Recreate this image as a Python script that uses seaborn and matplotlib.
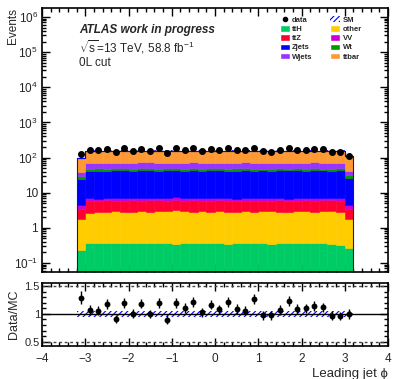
import numpy as np
import pandas as pd
import matplotlib
matplotlib.use("Agg")
import matplotlib.pyplot as plt
import seaborn as sns
from matplotlib.patches import Patch
from matplotlib.lines import Line2D
from matplotlib.ticker import MultipleLocator, LogLocator, FuncFormatter, NullFormatter, FixedLocator

# ---------------- data ----------------
edges = [-3.2, -3.0, -2.8, -2.6, -2.4, -2.2, -2.0, -1.8, -1.6, -1.4, -1.2, -1.0, -0.8, -0.6, -0.4, -0.2, 0.0,
         0.2, 0.4, 0.6, 0.8, 1.0, 1.2, 1.4, 1.6, 1.8, 2.0, 2.2, 2.4, 2.6, 2.8, 3.0, 3.2]

ttH = [0.23, 0.38, 0.37, 0.36, 0.36, 0.36, 0.37, 0.36, 0.38, 0.36, 0.37, 0.35, 0.36, 0.37, 0.36, 0.37,
       0.36, 0.35, 0.37, 0.36, 0.36, 0.37, 0.35, 0.36, 0.37, 0.36, 0.38, 0.37, 0.36, 0.35, 0.33, 0.26]
other = [1.55, 2.3, 2.4, 2.5, 2.6, 2.5, 2.4, 2.6, 2.5, 2.7, 2.6, 2.9, 2.6, 2.5, 2.6, 2.5,
         2.7, 2.5, 2.4, 2.6, 2.5, 2.6, 2.7, 2.5, 2.5, 2.7, 2.6, 2.5, 2.6, 2.6, 2.5, 1.55]
ttZ = [1.7, 3.3, 3.0, 3.2, 2.9, 3.1, 3.3, 2.8, 3.2, 3.0, 2.9, 3.1, 3.0, 3.3, 2.9, 3.0,
       3.2, 3.1, 3.0, 2.8, 3.1, 3.0, 2.9, 3.2, 3.0, 2.9, 3.1, 3.0, 3.2, 3.1, 3.0, 1.6]
VV = [1.0, 1.1, 0.9, 1.0, 1.1, 0.9, 1.0, 1.2, 1.0, 0.9, 1.1, 1.0, 0.9, 1.0, 1.1, 1.0,
      0.9, 1.1, 1.0, 1.2, 0.9, 1.0, 1.1, 1.0, 0.9, 1.0, 1.1, 1.0, 0.9, 1.0, 1.1, 1.0]
Zjets = [20, 35, 36, 34, 37, 36, 35, 37, 36, 35, 36, 38, 35, 36, 34, 36,
         37, 35, 36, 37, 35, 36, 34, 36, 37, 36, 35, 37, 36, 35, 36, 22]
Wt = [4.5, 6.0, 6.5, 5.0, 5.5, 6.0, 5.0, 6.5, 6.0, 5.5, 6.0, 5.0, 6.5, 6.0, 5.5, 6.0,
      5.0, 6.0, 6.5, 5.5, 6.0, 5.0, 6.5, 6.0, 5.0, 6.0, 5.5, 6.0, 5.0, 6.5, 6.0, 4.5]
Wjets = [11, 22, 21, 24, 22, 23, 21, 22, 24, 21, 23, 22, 21, 24, 22, 23,
         21, 22, 23, 24, 21, 22, 23, 22, 21, 23, 22, 24, 21, 22, 23, 10]
ttbar = [58, 82, 84, 80, 83, 81, 84, 80, 82, 85, 81, 83, 80, 84, 82, 81,
         83, 80, 82, 84, 81, 83, 80, 82, 85, 81, 83, 80, 84, 82, 81, 73]
data = [127, 163, 163, 177, 141, 183, 153, 181, 155, 184, 137, 187, 166, 192, 155, 179,
        166, 183, 168, 166, 190, 149, 147, 164, 192, 168, 168, 176, 171, 148, 147, 114]
sm_rel_unc = [0.06, 0.06, 0.06, 0.06, 0.06, 0.06, 0.06, 0.06, 0.06, 0.06, 0.06, 0.06, 0.06, 0.06, 0.06, 0.06,
              0.06, 0.06, 0.06, 0.06, 0.06, 0.06, 0.06, 0.06, 0.06, 0.06, 0.06, 0.06, 0.06, 0.06, 0.06, 0.06]

processes = ["ttH", "other", "ttZ", "VV", "Zjets", "Wt", "Wjets", "ttbar"]
values = {"ttH": ttH, "other": other, "ttZ": ttZ, "VV": VV, "Zjets": Zjets,
          "Wt": Wt, "Wjets": Wjets, "ttbar": ttbar}
colors = {"ttH": "#00cc66", "other": "#ffcc00", "ttZ": "#ff0033", "VV": "#cc00cc",
          "Zjets": "#0000ff", "Wt": "#009900", "Wjets": "#9933ff", "ttbar": "#ff9933"}

edges_a = np.array(edges)
centers = 0.5 * (edges_a[1:] + edges_a[:-1])
total = np.sum([np.array(values[p]) for p in processes], axis=0)
data_a = np.array(data, dtype=float)
unc = np.array(sm_rel_unc)

# ---------------- style ----------------
sns.set_theme(style="ticks")
plt.rcParams["font.family"] = ["Liberation Sans", "DejaVu Sans"]
plt.rcParams["mathtext.fontset"] = "custom"
plt.rcParams["mathtext.rm"] = "Liberation Sans"
plt.rcParams["mathtext.it"] = "Liberation Sans:italic"
plt.rcParams["mathtext.bf"] = "Liberation Sans:bold"
plt.rcParams["hatch.linewidth"] = 0.8

W, H = 394, 379
fig = plt.figure(figsize=(W / 100, H / 100), dpi=100)

def axrect(x0, y0, x1, y1):
    return [x0 / W, 1 - y1 / H, (x1 - x0) / W, (y1 - y0) / H]

ax = fig.add_axes(axrect(42, 8, 388, 272))
rax = fig.add_axes(axrect(42, 283, 388, 346))

# ---------------- main panel ----------------
df = pd.concat([pd.DataFrame({"phi": centers, "w": values[p], "process": p}) for p in processes],
               ignore_index=True)
sns.histplot(data=df, x="phi", weights="w", hue="process", hue_order=processes[::-1],
             multiple="stack", bins=edges, element="bars", fill=True, alpha=1,
             palette=colors, legend=False, ax=ax, linewidth=0.4, shrink=1)
for patch in ax.patches:
    patch.set_edgecolor(patch.get_facecolor())

ax.set_yscale("log")
# outline and SM band
ax.stairs(total, edges, color="#222222", linewidth=0.8, baseline=1e-3)
ax.stairs(total * (1 + unc), edges, baseline=total * (1 - unc), fill=True, hatch="//////",
          facecolor="none", edgecolor="blue", linewidth=0)
ax.stairs(total, edges, color="blue", linewidth=0.8, baseline=None)
ax.errorbar(centers, data_a, yerr=np.sqrt(data_a), fmt="o", color="black", ms=4,
            elinewidth=1, capsize=0, zorder=5)

ax.set_xlim(-4, 4)
ax.set_ylim(0.0555, 1.8e6)
ax.set_xlabel("")
ax.set_ylabel("Events", fontsize=8.5, loc="top")
ax.yaxis.set_label_coords((19 - 42) / 346, 1.0)


def logfmt(v, pos):
    e = int(round(np.log10(v)))
    if e == 0:
        return "1"
    if e == 1:
        return "10"
    return r"$\mathdefault{10^{%d}}$" % e


ax.yaxis.set_major_locator(LogLocator(base=10, numticks=20))
ax.yaxis.set_minor_locator(LogLocator(base=10, subs=np.arange(2, 10), numticks=20))
ax.yaxis.set_major_formatter(FuncFormatter(logfmt))
ax.yaxis.set_minor_formatter(NullFormatter())
ax.xaxis.set_major_locator(MultipleLocator(1))
ax.xaxis.set_minor_locator(MultipleLocator(0.2))
ax.tick_params(which="both", direction="in", top=True, right=True, labelbottom=False,
               labelsize=8.5, width=1, color="black", pad=3)
ax.tick_params(which="major", length=6)
ax.tick_params(which="minor", length=3)
for s in ax.spines.values():
    s.set_linewidth(1.2)
    s.set_color("black")

# legend
col1 = [Line2D([], [], marker="o", color="black", ls="none", ms=3),
        Patch(facecolor=colors["ttH"]), Patch(facecolor=colors["ttZ"]),
        Patch(facecolor=colors["Zjets"]), Patch(facecolor=colors["Wjets"])]
lab1 = ["data", "ttH", "ttZ", "Zjets", "Wjets"]
col2 = [Patch(facecolor="none", edgecolor="blue", hatch="//////", linewidth=0),
        Patch(facecolor=colors["other"]), Patch(facecolor=colors["VV"]),
        Patch(facecolor=colors["Wt"]), Patch(facecolor=colors["ttbar"])]
lab2 = ["SM", "other", "VV", "Wt", "ttbar"]
ax.legend(col1 + col2, lab1 + lab2, ncol=2, loc="upper left",
          bbox_to_anchor=((280 - 42) / 346, (272 - 16) / 264), frameon=False,
          prop={"size": 5.5, "weight": "bold"}, handlelength=1.3, handleheight=0.9,
          handletextpad=0.3, labelspacing=0.18, columnspacing=2.3, borderpad=0, borderaxespad=0)

# texts
fig.text(79 / W, 1 - 30 / H, "ATLAS work in progress", fontsize=8.5, fontweight="bold",
         fontstyle="italic", va="center", ha="left")
fig.text(79 / W, 1 - 47 / H, r"$\sqrt{\mathdefault{s}}$=13 TeV, 58.8 fb$^{\mathdefault{-1}}$",
         fontsize=8.5, va="center", ha="left")
fig.text(79 / W, 1 - 63 / H, "0L cut", fontsize=8.5, va="center", ha="left")

# ---------------- ratio panel ----------------
ratio = data_a / total
ratio_err = np.sqrt(data_a) / total
rax.stairs(1 + unc, edges, baseline=1 - unc, fill=True, hatch="//////",
           facecolor="none", edgecolor="blue", linewidth=0)
rax.axhline(1.0, color="black", lw=1)
rax.axhline(1.5, color="#444444", lw=1, ls=(0, (2, 2)))
rax.axhline(0.5, color="#444444", lw=1, ls=(0, (2, 2)))
sns.scatterplot(x=centers, y=ratio, color="black", s=18, edgecolor="black", linewidth=0, ax=rax, zorder=5)
rax.errorbar(centers, ratio, yerr=ratio_err, fmt="none", ecolor="black", elinewidth=1, capsize=0, zorder=5)

rax.set_xlim(-4, 4)
rax.set_ylim(0.42, 1.56)
rax.yaxis.set_major_locator(FixedLocator([0.5, 1.0, 1.5]))
rax.yaxis.set_major_formatter(FuncFormatter(lambda v, p: "1" if abs(v - 1) < 1e-6 else ("%.1f" % v)))
rax.yaxis.set_minor_locator(MultipleLocator(0.1))
rax.xaxis.set_major_locator(MultipleLocator(1))
rax.xaxis.set_minor_locator(MultipleLocator(0.2))
rax.tick_params(which="both", direction="in", top=True, right=True, labelsize=8.5, width=1,
                color="black")
rax.tick_params(axis="y", pad=1.5, labelsize=8)
rax.tick_params(axis="x", pad=5)
rax.tick_params(which="major", length=6)
rax.tick_params(which="minor", length=3)
for s in rax.spines.values():
    s.set_linewidth(1.2)
    s.set_color("black")
rax.set_ylabel("Data/MC", fontsize=9)
rax.yaxis.set_label_coords((20 - 42) / 346, 0.5)
rax.set_xlabel("Leading jet \u03d5", fontsize=9.5, loc="right", labelpad=2)

fig.savefig("out.png", dpi=100)
